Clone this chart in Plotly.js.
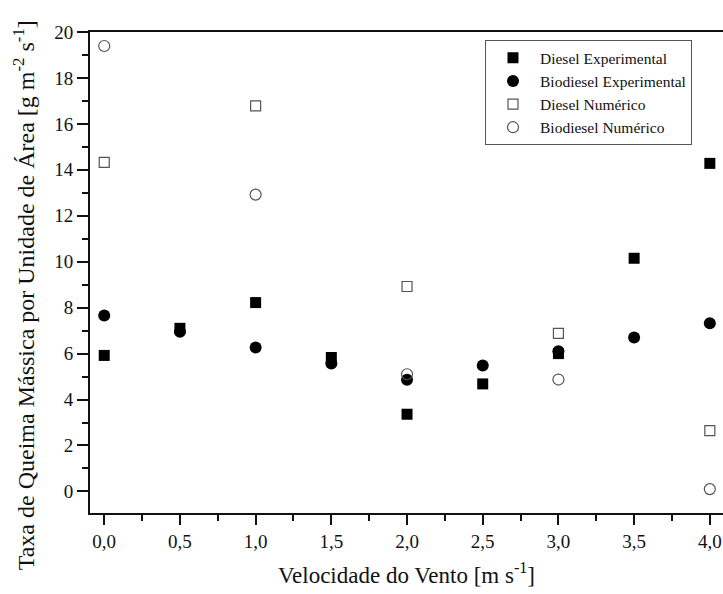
<!DOCTYPE html>
<html>
<head>
<meta charset="utf-8">
<script src="https://cdn.plot.ly/plotly-3.0.1.min.js"></script>
<style>html,body{margin:0;padding:0;background:#fff;}#chart{width:723px;height:594px;}</style>
</head>
<body>
<div id="chart"></div>
<script>
var windSpeed = [0.0, 0.5, 1.0, 1.5, 2.0, 2.5, 3.0, 3.5, 4.0];
var dieselExp = [5.92, 7.1, 8.22, 5.83, 3.36, 4.68, 6.0, 10.15, 14.28];
var biodieselExp = [7.66, 6.95, 6.26, 5.57, 4.86, 5.48, 6.1, 6.7, 7.32];
var numSpeed = [0.0, 1.0, 2.0, 3.0, 4.0];
var dieselNum = [14.32, 16.78, 8.92, 6.88, 2.65];
var biodieselNum = [19.39, 12.92, 5.1, 4.87, 0.1];
var xTickVals = [0, 0.5, 1, 1.5, 2, 2.5, 3, 3.5, 4];
var xTickText = ['0,0', '0,5', '1,0', '1,5', '2,0', '2,5', '3,0', '3,5', '4,0'];
var yTitle = 'Taxa de Queima Mássica por Unidade de Área [g m<sup>-2</sup> s<sup>-1</sup>]';

var serif = 'Liberation Serif';
var traces = [
  {x: windSpeed, y: dieselExp, name: 'Diesel Experimental', mode: 'markers', type: 'scatter',
   marker: {symbol: 'square', size: 11, color: '#000'}},
  {x: windSpeed, y: biodieselExp, name: 'Biodiesel Experimental', mode: 'markers', type: 'scatter',
   marker: {symbol: 'circle', size: 12, color: '#000'}},
  {x: numSpeed, y: dieselNum, name: 'Diesel Numérico', mode: 'markers', type: 'scatter',
   marker: {symbol: 'square-open', size: 10, color: '#555', line: {width: 1.2}}},
  {x: numSpeed, y: biodieselNum, name: 'Biodiesel Numérico', mode: 'markers', type: 'scatter',
   marker: {symbol: 'circle-open', size: 11, color: '#555', line: {width: 1.2}}}
];
var layout = {
  width: 723, height: 594,
  margin: {l: 90, r: 0, t: 32, b: 81},
  paper_bgcolor: '#fff', plot_bgcolor: '#fff',
  font: {family: serif, color: '#111', size: 15},
  showlegend: true,
  legend: {x: 0.624, y: 0.983, xanchor: 'left', yanchor: 'top',
    bordercolor: '#555', borderwidth: 1, bgcolor: '#fff', itemwidth: 44,
    font: {family: serif, size: 15.5, color: '#111'}, tracegroupgap: 0},
  xaxis: {
    range: [-0.094, 4.087], tickvals: xTickVals, ticktext: xTickText,
    showgrid: false, zeroline: false, showline: true, linecolor: '#111', linewidth: 2,
    mirror: true, ticks: 'outside', ticklen: 10, tickwidth: 2, tickcolor: '#111',
    minor: {dtick: 0.25, ticks: 'outside', ticklen: 6, tickwidth: 2, tickcolor: '#111', showgrid: false},
    tickfont: {family: serif, size: 19, color: '#111'},
    title: {text: 'Velocidade do Vento [m s<sup>-1</sup>]', font: {family: serif, size: 23, color: '#111'}, standoff: 16}
  },
  yaxis: {
    range: [-0.94, 20], dtick: 2, tick0: 0,
    showgrid: false, zeroline: false, showline: true, linecolor: '#111', linewidth: 2,
    mirror: false, ticks: 'outside', ticklen: 11, tickwidth: 2, tickcolor: '#111',
    minor: {dtick: 1, ticks: 'outside', ticklen: 6, tickwidth: 2, tickcolor: '#111', showgrid: false},
    tickfont: {family: serif, size: 19, color: '#111'},
    title: {text: ''}
  },
  annotations: [{
    text: yTitle, textangle: -90, showarrow: false,
    xref: 'paper', yref: 'paper', x: -0.104, y: 0.453, xanchor: 'center', yanchor: 'middle',
    font: {family: serif, size: 24, color: '#111'}
  }]
};
Plotly.newPlot('chart', traces, layout, {displayModeBar: false, staticPlot: true});
</script>
</body>
</html>
